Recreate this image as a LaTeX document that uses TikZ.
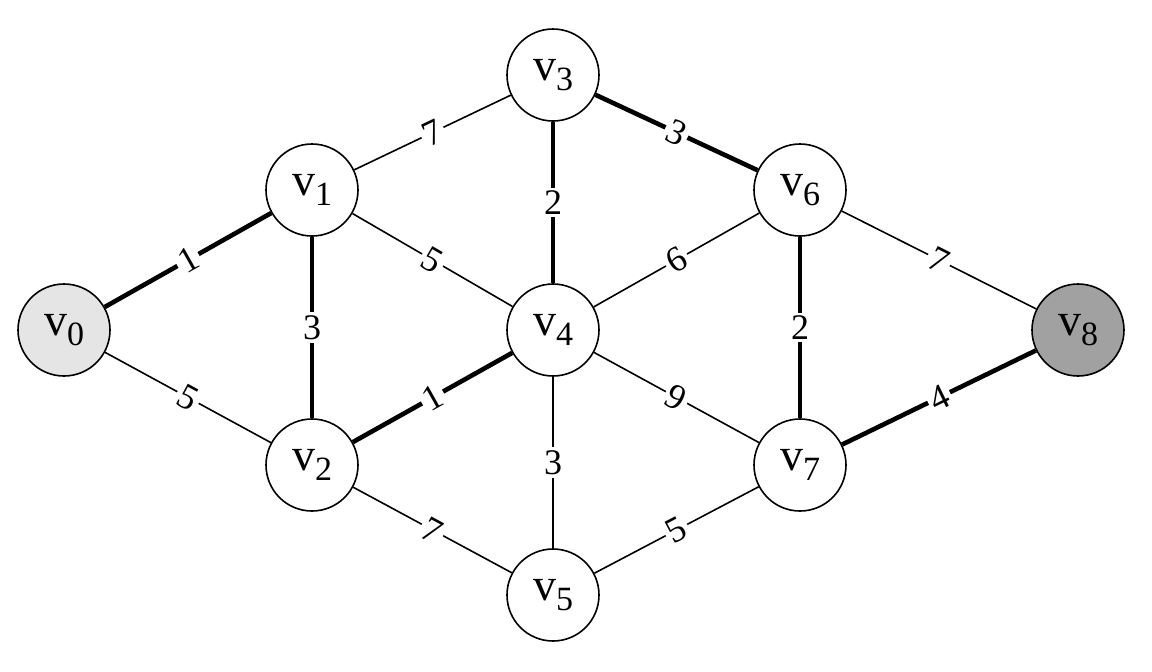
\documentclass[tikz,border=0pt]{standalone}
\usepackage{fontspec}
\setmainfont{Liberation Serif}
\begin{document}
\begin{tikzpicture}[x=0.5pt,y=-0.5pt,
  vert/.style={circle,draw,line width=0.8pt,fill=white,minimum size=46pt,inner sep=0pt,font=\fontsize{23}{25}\selectfont},
  thin/.style={line width=0.8pt},
  thick/.style={line width=2.3pt},
  wt/.style={fill=white,inner sep=1.5pt,font=\fontsize{18}{20}\selectfont}]
\useasboundingbox (0,0) rectangle (1152,671);
\newcommand{\vlab}[1]{v\raisebox{-0.45ex}{\fontsize{17}{18}\selectfont #1}}
\node[vert,fill=black!10] (v0) at (64,330) {\vlab{0}};
\node[vert] (v1) at (312,190) {\vlab{1}};
\node[vert] (v2) at (312,465) {\vlab{2}};
\node[vert] (v3) at (553,75) {\vlab{3}};
\node[vert] (v4) at (553,330) {\vlab{4}};
\node[vert] (v5) at (553,595) {\vlab{5}};
\node[vert] (v6) at (800,190) {\vlab{6}};
\node[vert] (v7) at (800,465) {\vlab{7}};
\node[vert,fill=black!37] (v8) at (1078,330) {\vlab{8}};
\draw[thick] (v0) -- node[wt,sloped]{1} (v1);
\draw[thin] (v0) -- node[wt,sloped]{5} (v2);
\draw[thick] (v1) -- node[wt]{3} (v2);
\draw[thin] (v1) -- node[wt,sloped]{7} (v3);
\draw[thin] (v1) -- node[wt,sloped]{5} (v4);
\draw[thick] (v2) -- node[wt,sloped]{1} (v4);
\draw[thin] (v2) -- node[wt,sloped]{7} (v5);
\draw[thick] (v3) -- node[wt]{2} (v4);
\draw[thick] (v3) -- node[wt,sloped]{3} (v6);
\draw[thin] (v4) -- node[wt,sloped]{6} (v6);
\draw[thin] (v4) -- node[wt,sloped]{9} (v7);
\draw[thin] (v4) -- node[wt]{3} (v5);
\draw[thin] (v5) -- node[wt,sloped]{5} (v7);
\draw[thick] (v6) -- node[wt]{2} (v7);
\draw[thin] (v6) -- node[wt,sloped]{7} (v8);
\draw[thick] (v7) -- node[wt,sloped]{4} (v8);
\end{tikzpicture}
\end{document}
